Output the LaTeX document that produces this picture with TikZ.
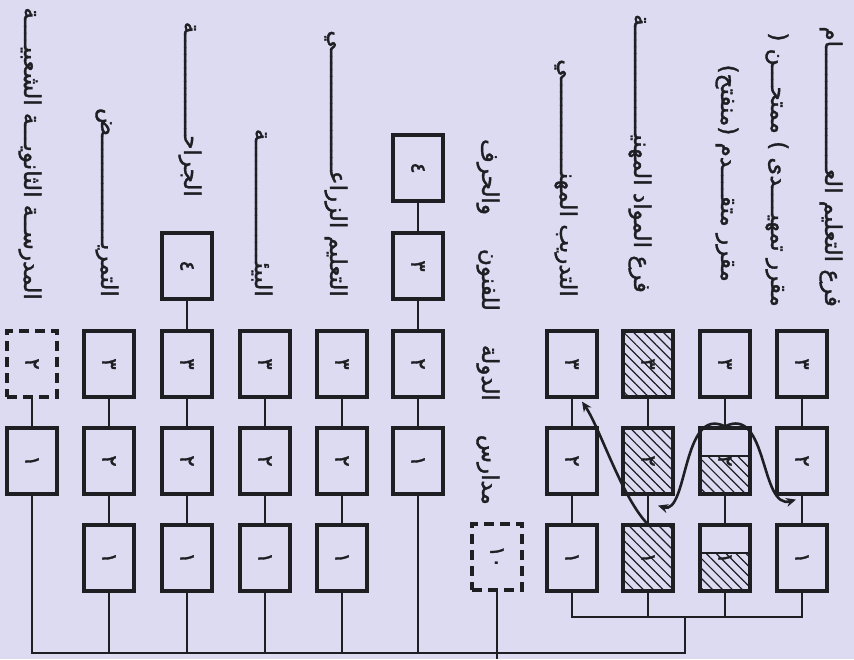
\documentclass[tikz,border=0pt]{standalone}
\usepackage{fontspec}
\newfontfamily\arabicfont[Script=Arabic, FakeBold=1.6]{DejaVu Sans}
\TeXXeTstate=1
\usetikzlibrary{arrows.meta}
\usetikzlibrary{patterns.meta}

\definecolor{paper}{RGB}{221,219,242}
\definecolor{ink}{RGB}{30,30,35}

\newcommand{\yr}[1]{\rotatebox{-90}{\arabicfont\fontsize{21}{21}\selectfont #1}}
\newcommand{\gap}{\hskip 34pt}

\begin{document}
\begin{tikzpicture}[x=1pt, y=-1pt,
	box/.style={draw=ink, line width=3.2pt, minimum width=50pt, minimum height=66pt, inner sep=0pt, text=ink},
	dashbox/.style={box, dash pattern=on 10pt off 6pt},
	hatched/.style={pattern={Lines[angle=-45,distance=7pt,line width=1.2pt]}, pattern color=ink},
	halfhatched/.style={path picture={
		\fill[pattern={Lines[angle=-45,distance=7pt,line width=1.2pt]}, pattern color=ink] (path picture bounding box.south west) rectangle ([yshift=38pt]path picture bounding box.south east);
		\draw[ink, line width=2.4pt] ([yshift=38pt]path picture bounding box.south west) -- ([yshift=38pt]path picture bounding box.south east);}},
	link/.style={draw=ink, line width=2.6pt},
	flow/.style={draw=ink, line width=2.6pt, -{Stealth[length=10pt,width=9pt]}},
	colname/.style={text=ink, font=\arabicfont\fontsize{23}{26}\selectfont, rotate=-90, anchor=east, inner sep=0pt}]
		\fill[paper] (0,0) rectangle (854,659); % Bakgrund
		\useasboundingbox (0,0) rectangle (854,659);
		
		\node[box] (peop1) at (32,461) {\yr{١}}; % Folkhögskolan
		\node[dashbox] (peop2) at (32,364) {\yr{٢}};
		
		\node[box] (nurs1) at (109,558) {\yr{١}}; % Sjukvård
		\node[box] (nurs2) at (109,461) {\yr{٢}};
		\node[box] (nurs3) at (109,364) {\yr{٣}};
		
		\node[box] (surg1) at (187,558) {\yr{١}};
		\node[box] (surg2) at (187,461) {\yr{٢}};
		\node[box] (surg3) at (187,364) {\yr{٣}};
		\node[box] (surg4) at (187,266) {\yr{٤}};
		
		\node[box] (env1) at (265,558) {\yr{١}};
		\node[box] (env2) at (265,461) {\yr{٢}};
		\node[box] (env3) at (265,364) {\yr{٣}};
		
		\node[box] (agri1) at (342,558) {\yr{١}}; % Lantbruk
		\node[box] (agri2) at (342,461) {\yr{٢}};
		\node[box] (agri3) at (342,364) {\yr{٣}};
		
		\node[box] (long1) at (418,461) {\yr{١}};
		\node[box] (long2) at (418,364) {\yr{٢}};
		\node[box] (long3) at (418,266) {\yr{٣}};
		\node[box] (long4) at (418,168) {\yr{٤}};
		
		\node[dashbox] (arts) at (497,557) {\yr{١٠}};
		
		\node[box] (voc1) at (572,558) {\yr{١}}; % Yrkesutbildning
		\node[box] (voc2) at (572,461) {\yr{٢}};
		\node[box] (voc3) at (572,364) {\yr{٣}};
		
		\node[box, hatched] (vocb1) at (648,558) {\yr{١}};
		\node[box, hatched] (vocb2) at (648,461) {\yr{٢}};
		\node[box, hatched] (vocb3) at (648,364) {\yr{٣}};
		
		\node[box, halfhatched] (adv1) at (725,558) {\yr{١}};
		\node[box, halfhatched] (adv2) at (725,461) {\yr{٢}};
		\node[box] (adv3) at (725,364) {\yr{٣}};
		
		\node[box] (intro1) at (802,558) {\yr{١}};
		\node[box] (intro2) at (802,461) {\yr{٢}};
		\node[box] (intro3) at (802,364) {\yr{٣}};
		
		\coordinate (bus) at (685,653); % Stammen
		\coordinate (grp) at (685,617);
		\coordinate (trunk) at (497,659);
		
		\draw[link] (peop1) -- (peop2);
		\draw[link] (nurs1) -- (nurs2) -- (nurs3);
		\draw[link] (surg1) -- (surg2) -- (surg3) -- (surg4);
		\draw[link] (env1) -- (env2) -- (env3);
		\draw[link] (agri1) -- (agri2) -- (agri3);
		\draw[link] (long1) -- (long2) -- (long3) -- (long4);
		\draw[link] (voc1) -- (voc2) -- (voc3);
		\draw[link] (vocb1) -- (vocb2) -- (vocb3);
		\draw[link] (adv1) -- (adv2) -- (adv3);
		\draw[link] (intro1) -- (intro2) -- (intro3);
		
		\draw[link] (peop1) |- (bus) -- (grp);
		\draw[link] (nurs1) -- (nurs1 |- bus);
		\draw[link] (surg1) -- (surg1 |- bus);
		\draw[link] (env1) -- (env1 |- bus);
		\draw[link] (agri1) -- (agri1 |- bus);
		\draw[link] (long1) -- (long1 |- bus);
		\draw[link] (arts) -- (trunk);
		\draw[link] (voc1) |- (grp);
		\draw[link] (intro1) |- (grp);
		\draw[link] (vocb1) -- (vocb1 |- grp);
		\draw[link] (adv1) -- (adv1 |- grp);
		
		\draw[flow] (vocb1.north) .. controls (622,498) and (600,428) .. ([xshift=10pt,yshift=-3pt]voc3.south); % Övergångar
		\draw[flow, {Stealth[length=10pt,width=9pt]}-{Stealth[length=10pt,width=9pt]}] ([xshift=10pt,yshift=-10pt]vocb2.south) .. controls (688,515) and (682,405) .. (adv2.north) .. controls (768,405) and (760,510) .. ([xshift=-6pt,yshift=-4pt]intro2.south);
		
		\node[colname] (peopname) at (30,300) {\beginR المدرســة الثانويـــة الشعبيــــة\endR};
		\node[colname] (nursname) at (107,297) {\beginR التمريــــــــــــــــض\endR};
		\node[colname] (surgname) at (190,197) {\beginR الجراحـــــــــــــــة\endR};
		\node[colname] (envname) at (262,297) {\beginR البيئــــــــــــــــــة\endR};
		\node[colname] (agriname) at (336,297) {\beginR التعليم الزراعــــــــــــــــــي\endR};
		\node[colname] (artsname) at (488,505) {\beginR مدارس\gap الدولة\gap للفنون\gap والحرف\endR};
		\node[colname] (vocname) at (566,297) {\beginR التدريب المهنــــــــــــــي\endR};
		\node[colname] (vocbname) at (640,293) {\beginR فرع المواد المهنيــــــــــــــــة\endR};
		\node[colname] (advname) at (727,282) {\beginR مقرر متقــــدم (منفتح)\endR};
		\node[colname] (introname) at (777,307) {\beginR مقرر تمهيــــدى ) ممتحـــن (\endR};
		\node[colname] (genname) at (831,307) {\beginR فرع التعليم العــــــــــــــــــام\endR};
	\end{tikzpicture}
\end{document}
